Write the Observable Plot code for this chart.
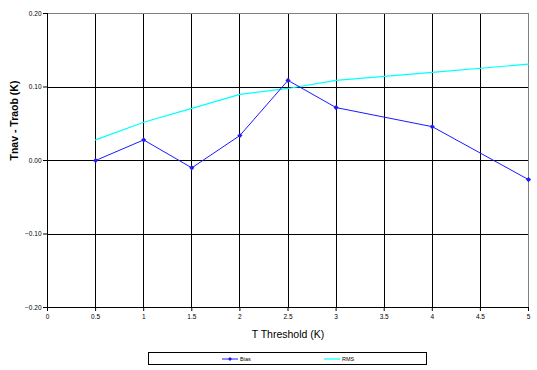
<!DOCTYPE html>
<html>
<head>
<meta charset="utf-8">
<script src="https://cdn.jsdelivr.net/npm/d3@7"></script>
<script src="https://cdn.jsdelivr.net/npm/@observablehq/plot@0.6"></script>
<style>
  html, body { margin: 0; padding: 0; background: #fff; }
  body { width: 537px; height: 370px; position: relative; overflow: hidden; font-family: "Liberation Sans", Arial, sans-serif; }
  #chart { position: absolute; left: 0; top: 0; }
  #legend { position: absolute; left: 148px; top: 352px; width: 277px; height: 11px; border: 1px solid #000; background: #fff; }
  .item { position: absolute; top: 0; height: 11px; display: flex; align-items: center; font-size: 5.5px; color: #000; }
  .item svg { display: block; margin-right: 2px; }
</style>
</head>
<body>
<div id="chart"></div>
<div id="legend"></div>
<script>
const thresholds = [0.5, 1, 1.5, 2, 2.5, 3, 4, 5];
const bias = [0.000, 0.028, -0.010, 0.034, 0.109, 0.072, 0.046, -0.026];
const rms = [0.028, 0.052, 0.071, 0.090, 0.098, 0.109, 0.120, 0.131];
const seriesNames = ["Bias", "RMS"];
const seriesColors = ["#1a1aff", "#00ffff"];
const xTicks = [0, 0.5, 1, 1.5, 2, 2.5, 3, 3.5, 4, 4.5, 5];
const yTicks = [-0.2, -0.1, 0, 0.1, 0.2];
const xTitle = "T Threshold (K)";
const yTitle = "Tnav - Traob (K)";

const biasData = thresholds.map((t, i) => ({x: t, y: bias[i]}));
const rmsData = thresholds.map((t, i) => ({x: t, y: rms[i]}));

const plot = Plot.plot({
  width: 537,
  height: 345,
  marginLeft: 47,
  marginRight: 9,
  marginTop: 13,
  marginBottom: 38,
  style: {fontFamily: "'Liberation Sans', Arial, sans-serif", background: "#fff", overflow: "visible"},
  x: {domain: [0, 5]},
  y: {domain: [-0.2, 0.2]},
  marks: [
    Plot.ruleX(xTicks.filter(d => d > 0 && d < 5), {stroke: "#000", strokeWidth: 1, shapeRendering: "crispEdges"}),
    Plot.ruleY(yTicks.filter(d => d > -0.2 && d < 0.2), {stroke: "#000", strokeWidth: 1, shapeRendering: "crispEdges"}),
    Plot.ruleY([0.2], {stroke: "#808080", strokeWidth: 1, shapeRendering: "crispEdges"}),
    Plot.ruleX([5], {stroke: "#808080", strokeWidth: 1, shapeRendering: "crispEdges"}),
    Plot.ruleY([-0.2], {stroke: "#000", strokeWidth: 1, shapeRendering: "crispEdges"}),
    Plot.ruleX([0], {stroke: "#000", strokeWidth: 1, shapeRendering: "crispEdges"}),
    Plot.axisX({ticks: xTicks, tickSize: 4, tickPadding: 3, fontSize: 6.5, tickFormat: d => String(d), label: null, stroke: "#000"}),
    Plot.axisY({ticks: yTicks, tickSize: 4, tickPadding: 2, fontSize: 6.5, tickFormat: d => d3.format(".2f")(d), label: null, stroke: "#000"}),
    Plot.text([xTitle], {frameAnchor: "bottom", dy: 30, fontSize: 10.5, fill: "#000"}),
    Plot.text([yTitle], {frameAnchor: "left", dx: -33, rotate: -90, fontSize: 10.5, fontWeight: "bold", fill: "#000"}),
    Plot.line(rmsData, {x: "x", y: "y", stroke: seriesColors[1], strokeWidth: 1.2}),
    Plot.line(biasData, {x: "x", y: "y", stroke: seriesColors[0], strokeWidth: 1}),
    Plot.dot(biasData, {x: "x", y: "y", symbol: "diamond2", r: 2.3, fill: seriesColors[0], stroke: "none"})
  ]
});
document.getElementById("chart").appendChild(plot);

const legend = document.getElementById("legend");
const positions = [73, 175];
seriesNames.forEach((name, i) => {
  const item = document.createElement("div");
  item.className = "item";
  item.style.left = positions[i] + "px";
  const marker = i === 0
    ? `<svg width="16" height="6"><line x1="0" y1="3" x2="16" y2="3" stroke="${seriesColors[i]}" stroke-width="1"/><path d="M8,1 L10,3 L8,5 L6,3Z" fill="${seriesColors[i]}"/></svg>`
    : `<svg width="16" height="6"><line x1="0" y1="3" x2="16" y2="3" stroke="${seriesColors[i]}" stroke-width="1.2"/></svg>`;
  item.innerHTML = marker + `<span>${name}</span>`;
  legend.appendChild(item);
});
</script>
</body>
</html>
